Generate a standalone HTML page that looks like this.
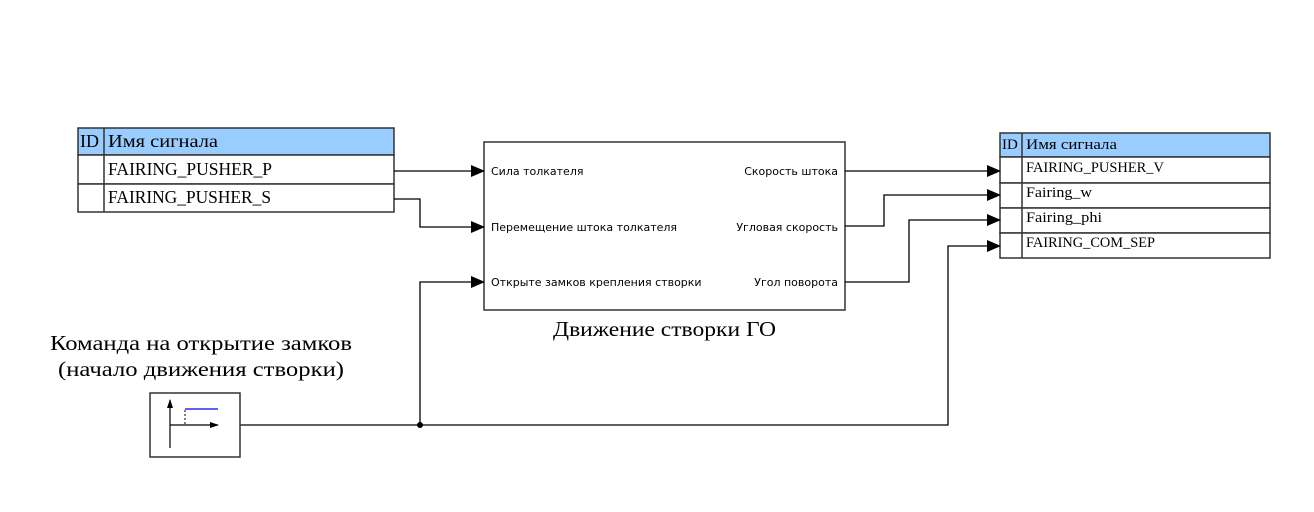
<!DOCTYPE html>
<html><head><meta charset="utf-8"><style>
html,body{margin:0;padding:0;background:#fff;}
svg{display:block}
.s{font-family:"Liberation Serif","Noto Serif CJK SC",serif;}
.a{font-family:"DejaVu Sans","Liberation Sans",sans-serif;font-size:11px;}
</style></head><body>
<svg width="1314" height="512" viewBox="0 0 1314 512" xmlns="http://www.w3.org/2000/svg">
<defs><marker id="ar" markerWidth="14" markerHeight="12" refX="13" refY="6" orient="auto" markerUnits="userSpaceOnUse"><path d="M0,0 L14,6 L0,12 Z" fill="#000"/></marker></defs>
<!-- left table -->
<g stroke="#333" stroke-width="1.5" fill="none">
<rect x="78" y="128" width="316" height="27" fill="#99ccff"/>
<rect x="78" y="155" width="316" height="29" fill="#fff"/>
<rect x="78" y="184" width="316" height="28" fill="#fff"/>
<line x1="104" y1="128" x2="104" y2="212"/>
</g>
<g class="s" font-size="18" fill="#000" lengthAdjust="spacingAndGlyphs">
<text x="80" y="147">ID</text><text x="108" y="147" textLength="110" lengthAdjust="spacingAndGlyphs">Имя сигнала</text>
<text x="108" y="175" textLength="164" lengthAdjust="spacingAndGlyphs">FAIRING_PUSHER_P</text>
<text x="108" y="203" textLength="163" lengthAdjust="spacingAndGlyphs">FAIRING_PUSHER_S</text>
</g>
<!-- right table -->
<g stroke="#333" stroke-width="1.5" fill="none">
<rect x="1000" y="133" width="270" height="24" fill="#99ccff"/>
<rect x="1000" y="157" width="270" height="26" fill="#fff"/>
<rect x="1000" y="183" width="270" height="25" fill="#fff"/>
<rect x="1000" y="208" width="270" height="25" fill="#fff"/>
<rect x="1000" y="233" width="270" height="25" fill="#fff"/>
<line x1="1022" y1="133" x2="1022" y2="258"/>
</g>
<g class="s" font-size="15" fill="#000">
<text x="1002" y="149">ID</text><text x="1026" y="149" textLength="91" lengthAdjust="spacingAndGlyphs">Имя сигнала</text>
<text x="1026" y="172" textLength="138" lengthAdjust="spacingAndGlyphs">FAIRING_PUSHER_V</text>
<text x="1026" y="197" textLength="66" lengthAdjust="spacingAndGlyphs">Fairing_w</text>
<text x="1026" y="222" textLength="76" lengthAdjust="spacingAndGlyphs">Fairing_phi</text>
<text x="1026" y="247" textLength="129" lengthAdjust="spacingAndGlyphs">FAIRING_COM_SEP</text>
</g>
<!-- block -->
<rect x="484" y="142" width="361" height="168" fill="#fff" stroke="#333" stroke-width="1.5"/>
<g class="a" fill="#000">
<text x="491" y="175">Сила толкателя</text>
<text x="491" y="231">Перемещение штока толкателя</text>
<text x="491" y="286">Открыте замков крепления створки</text>
<text x="838" y="175" text-anchor="end">Скорость штока</text>
<text x="838" y="231" text-anchor="end">Угловая скорость</text>
<text x="838" y="286" text-anchor="end">Угол поворота</text>
</g>
<text class="s" x="553" y="336" font-size="21" textLength="223" lengthAdjust="spacingAndGlyphs">Движение створки ГО</text>
<text class="s" x="50" y="350" font-size="21" textLength="302" lengthAdjust="spacingAndGlyphs">Команда на открытие замков</text>
<text class="s" x="58" y="376" font-size="21" textLength="286" lengthAdjust="spacingAndGlyphs">(начало движения створки)</text>
<!-- lines -->
<g stroke="#000" stroke-width="1.3" fill="none">
<path d="M394,171 L484,171" marker-end="url(#ar)"/>
<path d="M394,199 L420,199 L420,227 L484,227" marker-end="url(#ar)"/>
<path d="M420,425 L420,282 L484,282" marker-end="url(#ar)"/>
<path d="M240,425 L948,425 L948,246 L1000,246" marker-end="url(#ar)"/>
<path d="M845,171 L1000,171" marker-end="url(#ar)"/>
<path d="M845,226 L884,226 L884,195 L1000,195" marker-end="url(#ar)"/>
<path d="M845,282 L909,282 L909,220 L1000,220" marker-end="url(#ar)"/>
</g>
<circle cx="420" cy="425" r="3" fill="#000"/>
<!-- step block -->
<rect x="150" y="393" width="90" height="64" fill="#fff" stroke="#333" stroke-width="1.5"/>
<g stroke="#000" stroke-width="1.2" fill="none">
<line x1="170" y1="448" x2="170" y2="400"/>
<line x1="170" y1="425" x2="218" y2="425"/>
</g>
<path d="M167,408 L170,399 L173,408 Z" fill="#000"/>
<path d="M210,422 L219,425 L210,428 Z" fill="#000"/>
<line x1="185" y1="424" x2="185" y2="409" stroke="#000" stroke-width="1" stroke-dasharray="2,2"/>
<line x1="185" y1="409" x2="218" y2="409" stroke="#0000ee" stroke-width="1.2"/>
</svg>
</body></html>
